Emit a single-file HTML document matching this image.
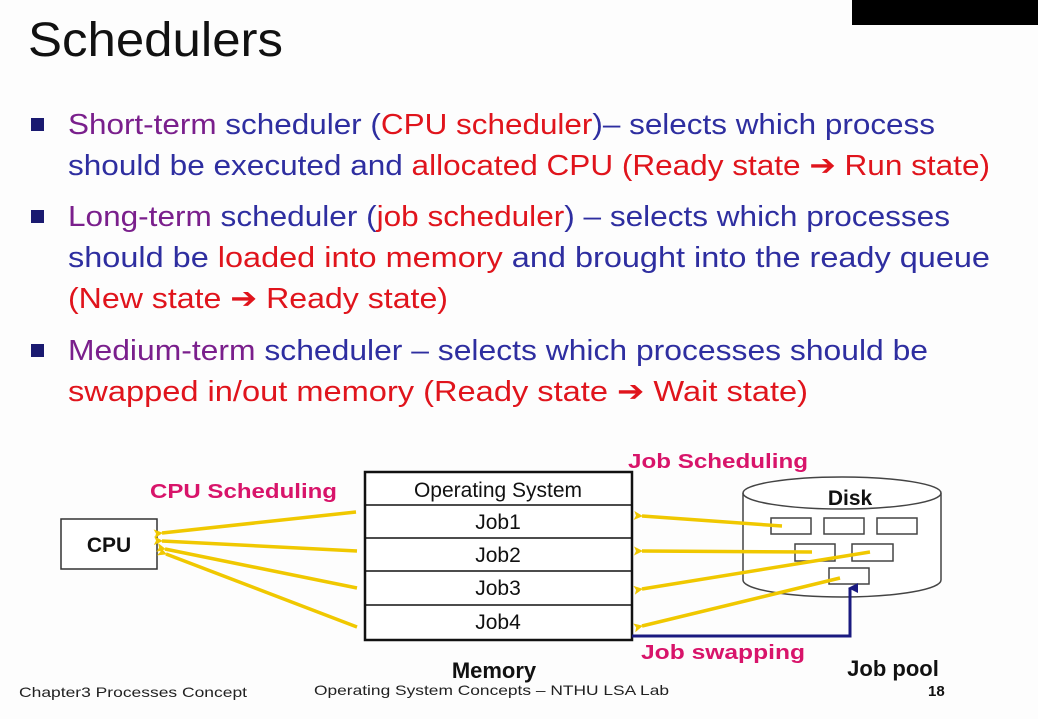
<!DOCTYPE html>
<html><head><meta charset="utf-8"><style>
html,body{margin:0;padding:0;background:#fdfdfd;}
svg{display:block;}
text{font-family:"Liberation Sans",sans-serif;}
</style></head><body>
<svg width="1038" height="719" viewBox="0 0 1038 719" xmlns="http://www.w3.org/2000/svg">
<defs>
<marker id="ya" markerWidth="9" markerHeight="9" refX="1" refY="4.5" orient="auto" markerUnits="userSpaceOnUse"><path d="M0,4.5 L9,0 L7,4.5 L9,9 Z" fill="#f0c800"/></marker>
<marker id="ba" markerWidth="10" markerHeight="10" refX="5" refY="2" orient="auto-start-reverse" markerUnits="userSpaceOnUse"><path d="M0,10 L5,0 L10,10 Z" fill="#1a1a80"/></marker>
</defs>
<rect x="0" y="0" width="1038" height="719" fill="#fdfdfd"/>
<rect x="852" y="0" width="186" height="25" fill="#000"/>
<text x="28" y="56" font-size="48" fill="#111" textLength="255" lengthAdjust="spacingAndGlyphs">Schedulers</text>

<g font-size="29">
<rect x="31" y="118" width="13" height="13" fill="#1a1a70"/>
<text x="68" y="134" textLength="867" lengthAdjust="spacingAndGlyphs"><tspan fill="#7a1f8c">Short-term</tspan><tspan fill="#2e2ea0"> scheduler (</tspan><tspan fill="#e0141c">CPU scheduler</tspan><tspan fill="#2e2ea0">)– selects which process</tspan></text>
<text x="68" y="175" textLength="922" lengthAdjust="spacingAndGlyphs"><tspan fill="#2e2ea0">should be executed and </tspan><tspan fill="#e0141c">allocated CPU (Ready state ➔ Run state)</tspan></text>
<rect x="31" y="210" width="13" height="13" fill="#1a1a70"/>
<text x="68" y="226" textLength="882" lengthAdjust="spacingAndGlyphs"><tspan fill="#7a1f8c">Long-term</tspan><tspan fill="#2e2ea0"> scheduler (</tspan><tspan fill="#e0141c">job scheduler</tspan><tspan fill="#2e2ea0">) – selects which processes</tspan></text>
<text x="68" y="267" textLength="922" lengthAdjust="spacingAndGlyphs"><tspan fill="#2e2ea0">should be </tspan><tspan fill="#e0141c">loaded into memory</tspan><tspan fill="#2e2ea0"> and brought into the ready queue</tspan></text>
<text x="68" y="308" textLength="380" lengthAdjust="spacingAndGlyphs" fill="#e0141c">(New state ➔ Ready state)</text>
<rect x="31" y="344" width="13" height="13" fill="#1a1a70"/>
<text x="68" y="360" textLength="860" lengthAdjust="spacingAndGlyphs"><tspan fill="#7a1f8c">Medium-term</tspan><tspan fill="#2e2ea0"> scheduler – selects which processes should be</tspan></text>
<text x="68" y="401" textLength="740" lengthAdjust="spacingAndGlyphs"><tspan fill="#e0141c">swapped in/out memory (Ready state ➔ Wait state)</tspan></text>
</g>

<g font-weight="bold" font-size="20" fill="#d8146a">
<text x="150" y="498" textLength="187" lengthAdjust="spacingAndGlyphs">CPU Scheduling</text>
<text x="628" y="468" textLength="180" lengthAdjust="spacingAndGlyphs">Job Scheduling</text>
<text x="641" y="659" textLength="164" lengthAdjust="spacingAndGlyphs">Job swapping</text>
</g>

<rect x="61" y="519" width="96" height="50" fill="#fff" stroke="#333" stroke-width="1.5"/>
<text x="109" y="552" font-size="21" font-weight="bold" text-anchor="middle" fill="#111">CPU</text>

<g stroke="#111" fill="#fff">
<rect x="365" y="472" width="267" height="168" stroke-width="2.5"/>
<line x1="365" y1="505" x2="632" y2="505" stroke-width="1.5"/>
<line x1="365" y1="538" x2="632" y2="538" stroke-width="1.5"/>
<line x1="365" y1="571" x2="632" y2="571" stroke-width="1.5"/>
<line x1="365" y1="605" x2="632" y2="605" stroke-width="1.5"/>
</g>
<g font-size="21" fill="#111" text-anchor="middle">
<text x="498" y="497">Operating System</text>
<text x="498" y="529">Job1</text>
<text x="498" y="562">Job2</text>
<text x="498" y="595">Job3</text>
<text x="498" y="629">Job4</text>
</g>
<text x="494" y="678" font-size="22" font-weight="bold" text-anchor="middle" fill="#111">Memory</text>

<g stroke="#444" stroke-width="1.5" fill="none">
<path d="M743,493 L743,580 A99,17 0 0 0 941,580 L941,493" fill="#fff"/>
<ellipse cx="842" cy="493" rx="99" ry="16" fill="#fff"/>
<rect x="771" y="518" width="40" height="16"/>
<rect x="824" y="518" width="40" height="16"/>
<rect x="877" y="518" width="40" height="16"/>
<rect x="795" y="544" width="40" height="17"/>
<rect x="852" y="544" width="41" height="17"/>
<rect x="829" y="568" width="40" height="16"/>
</g>
<text x="850" y="505" font-size="21" font-weight="bold" text-anchor="middle" fill="#111">Disk</text>
<text x="893" y="676" font-size="22" font-weight="bold" text-anchor="middle" fill="#111">Job pool</text>

<g stroke="#f0c800" stroke-width="3.5" fill="none" marker-end="url(#ya)">
<line x1="356" y1="512" x2="162" y2="533"/>
<line x1="357" y1="551" x2="162" y2="541"/>
<line x1="357" y1="588" x2="165" y2="549"/>
<line x1="357" y1="627" x2="166" y2="554"/>
<line x1="782" y1="526" x2="642" y2="516"/>
<line x1="812" y1="552" x2="642" y2="551"/>
<line x1="870" y1="552" x2="642" y2="589"/>
<line x1="840" y1="578" x2="642" y2="626"/>
</g>

<path d="M632,636 L850,636 L850,588" fill="none" stroke="#1a1a80" stroke-width="3" marker-end="url(#ba)"/>

<text x="19" y="697" font-size="14" fill="#222" textLength="228" lengthAdjust="spacingAndGlyphs">Chapter3 Processes Concept</text>
<text x="314" y="695" font-size="14" fill="#222" textLength="355" lengthAdjust="spacingAndGlyphs">Operating System Concepts – NTHU LSA Lab</text>
<text x="928" y="696" font-size="15" font-weight="bold" fill="#111">18</text>
</svg>
</body></html>
